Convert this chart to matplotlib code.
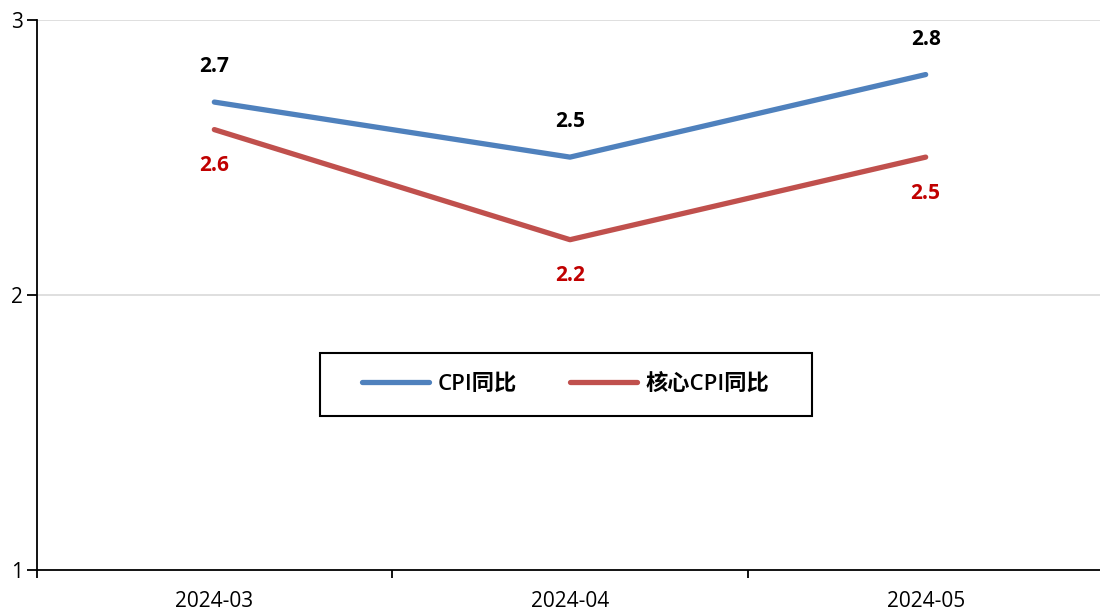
import matplotlib
matplotlib.use("Agg")
import matplotlib.pyplot as plt
from matplotlib.patches import Rectangle

plt.rcParams['font.family'] = ['Open Sans', 'Noto Sans CJK SC', 'DejaVu Sans']

categories = ["2024-03", "2024-04", "2024-05"]
cpi = [2.7, 2.5, 2.8]
core_cpi = [2.6, 2.2, 2.5]
series_names = ["CPI同比", "核心CPI同比"]
y_ticks = [1, 2, 3]

blue = "#4F81BD"
red = "#C0504D"

fig = plt.figure(figsize=(11, 6.12), dpi=100)
ax = fig.add_axes([36.5/1100, 1-570/612, 1067/1100, (570-19.5)/612])

x = list(range(len(categories)))
l1, = ax.plot(x, cpi, color=blue, lw=3.8, solid_capstyle='round', label=series_names[0], zorder=3)
l2, = ax.plot(x, core_cpi, color=red, lw=3.8, solid_capstyle='round', label=series_names[1], zorder=3)

for xi, v in zip(x, cpi):
    ax.annotate(f"{v:.1f}", (xi, v), xytext=(0, 25.5), textcoords='offset points',
                ha='center', va='center', fontsize=15, fontweight='bold', color='black')
for xi, v in zip(x, core_cpi):
    ax.annotate(f"{v:.1f}", (xi, v), xytext=(0, -26), textcoords='offset points',
                ha='center', va='center', fontsize=15, fontweight='bold', color='#C00000')

ax.set_xlim(-0.5, 2.5)
ax.set_ylim(1, 3)
ax.set_yticks(y_ticks)
ax.set_yticklabels([str(t) for t in y_ticks], fontsize=15)
ax.set_xticks(x)
ax.set_xticklabels(categories, fontsize=15)
ax.set_xticks([-0.5, 0.5, 1.5, 2.5], minor=True)
ax.tick_params(axis='x', which='major', length=0, pad=15)
ax.tick_params(axis='x', which='minor', length=6, width=1.3, direction='out')
ax.tick_params(axis='y', which='major', length=7, width=1.3, direction='out', pad=3)

for yv in [2, 3]:
    ax.axhline(yv, color='#D9D9D9', lw=1.2, zorder=1)

for s in ['top', 'right']:
    ax.spines[s].set_visible(False)
for s in ['left', 'bottom']:
    ax.spines[s].set_linewidth(1.3)
    ax.spines[s].set_color('black')

# legend box
fig.patches.append(Rectangle((320/1100, 1-416/612), 492/1100, 63/612,
                             transform=fig.transFigure, fill=False, edgecolor='black', lw=1.5))
leg = fig.legend(handles=[l1, l2], labels=series_names, loc='center',
                 bbox_to_anchor=(566/1100, 1-384.5/612), ncol=2, frameon=False,
                 fontsize=16, handlelength=3.0, handletextpad=0.4, columnspacing=2.4)
for t in leg.get_texts():
    t.set_fontweight('semibold')

fig.savefig("out.png", dpi=100)
